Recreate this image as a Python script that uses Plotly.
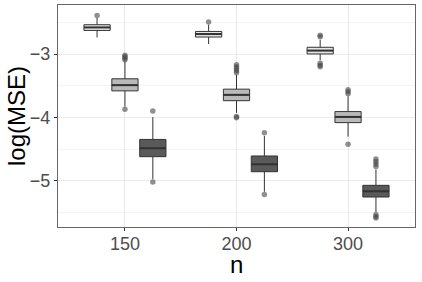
import plotly.graph_objects as go

# ---- data ----
n_labels = ["150", "200", "300"]
group_names = ["A", "B", "C"]
fill_colors = ["#e6e6e6", "#bababa", "#5a5a5a"]

q1 = [[-2.627, -2.731, -2.998],
      [-3.580, -3.735, -4.081],
      [-4.618, -4.855, -5.254]]
median = [[-2.580, -2.684, -2.945],
          [-3.490, -3.643, -3.991],
          [-4.485, -4.738, -5.164]]
q3 = [[-2.537, -2.643, -2.893],
      [-3.390, -3.553, -3.907],
      [-4.346, -4.607, -5.070]]
lower_whisker = [[-2.738, -2.842, -3.098],
                 [-3.828, -3.927, -4.302],
                 [-4.970, -5.171, -5.491]]
upper_whisker = [[-2.431, -2.537, -2.774],
                 [-3.114, -3.327, -3.667],
                 [-3.995, -4.291, -4.820]]
outliers = [
    [[-2.390], [-2.494], [-2.703, -2.727, -3.145, -3.177, -3.200]],
    [[-3.019, -3.043, -3.066, -3.090, -3.872],
     [-3.169, -3.200, -3.232, -3.264, -3.295, -3.983, -4.006],
     [-3.564, -3.596, -3.627, -4.422]],
    [[-3.896, -5.017], [-4.239, -5.215],
     [-4.654, -4.694, -4.733, -4.773, -5.531, -5.562, -5.586]],
]

# ---- layout constants ----
dodge = 0.25
box_w = 0.235
line_col = "#333333"

fig = go.Figure()
for g in range(3):
    off = (g - 1) * dodge
    xs = [i + off for i in range(len(n_labels))]
    fig.add_trace(go.Box(
        x=xs, q1=q1[g], median=median[g], q3=q3[g],
        lowerfence=lower_whisker[g], upperfence=upper_whisker[g],
        width=box_w, whiskerwidth=0, boxpoints=False,
        fillcolor=fill_colors[g], line=dict(color=line_col, width=1),
        name=group_names[g], showlegend=False, hoverinfo="skip",
    ))
    # thicker median line (ggplot style)
    mx, my = [], []
    for i, x in enumerate(xs):
        mx += [x - box_w / 2, x + box_w / 2, None]
        my += [median[g][i], median[g][i], None]
    fig.add_trace(go.Scatter(x=mx, y=my, mode="lines",
                             line=dict(color=line_col, width=2),
                             showlegend=False, hoverinfo="skip"))
    ox, oy = [], []
    for i, x in enumerate(xs):
        for v in outliers[g][i]:
            ox.append(x)
            oy.append(v)
    fig.add_trace(go.Scatter(x=ox, y=oy, mode="markers",
                             marker=dict(color="rgba(70,70,70,0.6)", size=5.5),
                             showlegend=False, hoverinfo="skip"))

fig.update_layout(
    width=422, height=282,
    margin=dict(l=58, r=7, t=5, b=55, autoexpand=False),
    paper_bgcolor="white", plot_bgcolor="white",
    font=dict(family="Liberation Sans, Arial, sans-serif"),
)
fig.update_xaxes(
    range=[-0.6, 2.6], tickvals=[0, 1, 2], ticktext=n_labels,
    showgrid=True, gridcolor="#ebebeb", gridwidth=1, zeroline=False,
    showline=True, mirror=True, linecolor="#666666", linewidth=1,
    ticks="outside", ticklen=3, tickcolor="#333333", ticklabelstandoff=-3,
    tickfont=dict(size=18, color="#4d4d4d"), automargin=False,
)
fig.update_yaxes(
    range=[-5.727, -2.226], tickvals=[-3, -4, -5], ticktext=["\u22123", "\u22124", "\u22125"],
    showgrid=True, gridcolor="#ebebeb", gridwidth=1, zeroline=False,
    minor=dict(tickvals=[-2.5, -3.5, -4.5, -5.5], showgrid=True, gridcolor="#f4f4f4", gridwidth=0.6),
    showline=True, mirror=True, linecolor="#666666", linewidth=1,
    ticks="outside", ticklen=3, tickcolor="#333333",
    tickfont=dict(size=18, color="#4d4d4d"), automargin=False,
)
fig.add_annotation(text="n", xref="paper", yref="paper", x=0.5, y=-37 / 222,
                   xanchor="center", yanchor="middle", showarrow=False,
                   font=dict(size=24, color="black"))
fig.add_annotation(text="log(MSE)", xref="paper", yref="paper", x=-42 / 357, y=0.5,
                   xanchor="center", yanchor="middle", textangle=-90, showarrow=False,
                   font=dict(size=24, color="black"))

fig.write_html("out.html", config={"displayModeBar": False},
               post_script="document.body.style.margin='0px';")
